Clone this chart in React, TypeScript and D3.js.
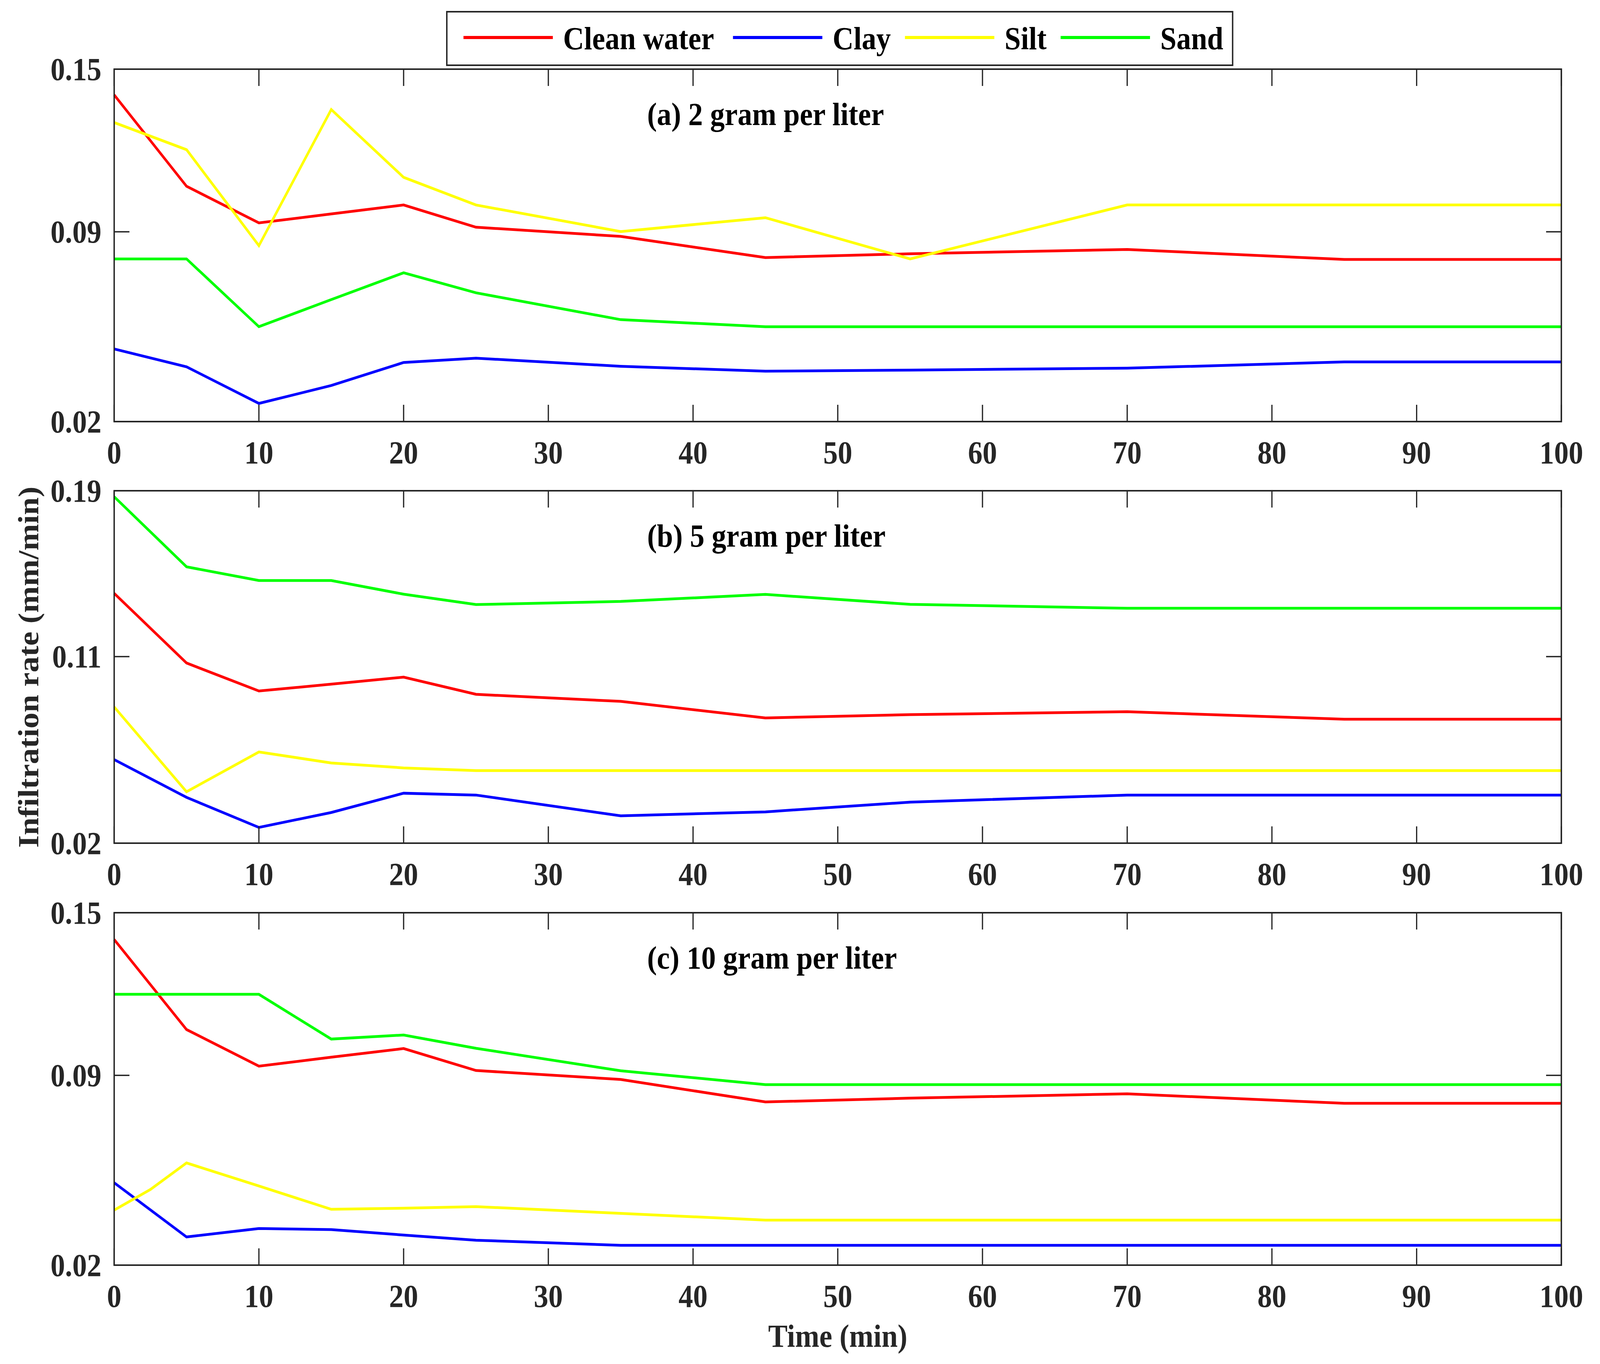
import * as d3 from "d3";
import { useEffect, useRef } from "react";

const TIMES = [0, 5, 10, 15, 20, 25, 35, 45, 55, 70, 85, 100];
const TIMES_SILT_C = [0, 2.5, 5, 10, 15, 20, 25, 35, 45, 55, 70, 85, 100];
const X_TICKS = [0, 10, 20, 30, 40, 50, 60, 70, 80, 90, 100];

const SERIES = ["Clean water", "Clay", "Silt", "Sand"];
const COLORS = ["#ff0000", "#0000ff", "#ffff00", "#00ff00"];

const TITLES = ["(a) 2 gram per liter", "(b) 5 gram per liter", "(c) 10 gram per liter"];
const Y_TICKS_A = [0.02, 0.09, 0.15];
const Y_TICKS_B = [0.02, 0.11, 0.19];
const Y_TICKS_C = [0.02, 0.09, 0.15];

// (a) 2 g/L
const A_CLEAN = [0.1405, 0.1068, 0.0933, 0.0966, 0.0999, 0.0917, 0.0883, 0.0805, 0.0819, 0.0835, 0.0798, 0.0798];
const A_CLAY = [0.0468, 0.0402, 0.0267, 0.0333, 0.0418, 0.0434, 0.0404, 0.0386, 0.039, 0.0397, 0.042, 0.042];
const A_SILT = [0.1303, 0.1203, 0.0849, 0.1351, 0.1101, 0.0999, 0.0901, 0.0952, 0.08, 0.0999, 0.0999, 0.0999];
const A_SAND = [0.08, 0.08, 0.055, 0.065, 0.0749, 0.0675, 0.0576, 0.055, 0.055, 0.055, 0.055, 0.055];

// (b) 5 g/L
const B_CLEAN = [0.1405, 0.1069, 0.0934, 0.0967, 0.1001, 0.0918, 0.0884, 0.0804, 0.082, 0.0834, 0.0798, 0.0798];
const B_CLAY = [0.0603, 0.0421, 0.0276, 0.0348, 0.0441, 0.0432, 0.0332, 0.0351, 0.0398, 0.0432, 0.0432, 0.0432];
const B_SILT = [0.0857, 0.0448, 0.064, 0.0587, 0.0563, 0.055, 0.055, 0.055, 0.055, 0.055, 0.055, 0.055];
const B_SAND = [0.1871, 0.1533, 0.1467, 0.1467, 0.1401, 0.1351, 0.1366, 0.14, 0.1352, 0.1333, 0.1333, 0.1333];

// (c) 10 g/L
const C_CLEAN = [0.1401, 0.1069, 0.0934, 0.0967, 0.0999, 0.0918, 0.0885, 0.0802, 0.0816, 0.0832, 0.0797, 0.0797];
const C_CLAY = [0.0504, 0.0304, 0.0335, 0.0331, 0.0311, 0.0292, 0.0273, 0.0273, 0.0273, 0.0273, 0.0273, 0.0273];
const C_SILT = [0.0403, 0.0479, 0.0577, 0.0492, 0.0406, 0.041, 0.0416, 0.0391, 0.0366, 0.0366, 0.0366, 0.0366, 0.0366];
const C_SAND = [0.1199, 0.1199, 0.1199, 0.1034, 0.1049, 0.1, 0.0917, 0.0866, 0.0866, 0.0866, 0.0866, 0.0866];

const LEGEND_X = [1307, 2067, 2552, 2991];

export default function App() {
  const ref = useRef<SVGSVGElement | null>(null);

  useEffect(() => {
    document.body.style.margin = "0";
    document.body.style.overflow = "hidden";

    const width = 4512;
    const height = 3491;
    const left = 322;
    const right = 4403;
    const panelH = 902;
    const tops = [177, 1256, 2336];
    const font = "'Liberation Serif', 'Times New Roman', serif";
    const axisColor = "#262626";

    const svg = d3.select(ref.current);
    svg.selectAll("*").remove();
    svg.attr("viewBox", `0 0 ${width} ${height}`).attr("preserveAspectRatio", "none");
    svg.append("rect").attr("width", width).attr("height", height).attr("fill", "#fff");

    const panels = [
      { title: TITLES[0], ticks: Y_TICKS_A, series: [A_CLEAN, A_CLAY, A_SILT, A_SAND], times: [TIMES, TIMES, TIMES, TIMES] },
      { title: TITLES[1], ticks: Y_TICKS_B, series: [B_CLEAN, B_CLAY, B_SILT, B_SAND], times: [TIMES, TIMES, TIMES, TIMES] },
      { title: TITLES[2], ticks: Y_TICKS_C, series: [C_CLEAN, C_CLAY, C_SILT, C_SAND], times: [TIMES, TIMES, TIMES_SILT_C, TIMES] },
    ];

    const x = d3.scaleLinear().domain([0, 100]).range([left, right]);

    panels.forEach((p, pi) => {
      const top = tops[pi];
      const bottom = top + panelH;
      const y = d3.scaleLinear().domain([p.ticks[0], p.ticks[p.ticks.length - 1]]).range([bottom, top]);
      const g = svg.append("g");

      const line = d3
        .line<[number, number]>()
        .x((d) => x(d[0]))
        .y((d) => y(d[1]));

      p.series.forEach((vals, si) => {
        const pts = vals.map((v, i) => [p.times[si][i], v] as [number, number]);
        g.append("path")
          .attr("d", line(pts) ?? "")
          .attr("fill", "none")
          .attr("stroke", COLORS[si])
          .attr("stroke-width", 7);
      });

      // ticks point inward on all four sides
      X_TICKS.forEach((t) => {
        g.append("line").attr("x1", x(t)).attr("x2", x(t)).attr("y1", bottom).attr("y2", bottom - 43)
          .attr("stroke", axisColor).attr("stroke-width", 3.5);
        g.append("line").attr("x1", x(t)).attr("x2", x(t)).attr("y1", top).attr("y2", top + 43)
          .attr("stroke", axisColor).attr("stroke-width", 3.5);
        g.append("text")
          .attr("x", x(t))
          .attr("y", bottom + 107)
          .attr("text-anchor", "middle")
          .attr("font-family", font)
          .attr("font-weight", "bold")
          .attr("font-size", 82)
          .attr("fill", axisColor)
          .text(String(t));
      });

      p.ticks.forEach((t) => {
        g.append("line").attr("x1", left).attr("x2", left + 43).attr("y1", y(t)).attr("y2", y(t))
          .attr("stroke", axisColor).attr("stroke-width", 3.5);
        g.append("line").attr("x1", right).attr("x2", right - 43).attr("y1", y(t)).attr("y2", y(t))
          .attr("stroke", axisColor).attr("stroke-width", 3.5);
        g.append("text")
          .attr("x", left - 36)
          .attr("y", y(t))
          .attr("dy", "0.34em")
          .attr("text-anchor", "end")
          .attr("font-family", font)
          .attr("font-weight", "bold")
          .attr("font-size", 82)
          .attr("fill", axisColor)
          .text(d3.format(".2f")(t));
      });

      g.append("rect")
        .attr("x", left)
        .attr("y", top)
        .attr("width", right - left)
        .attr("height", panelH)
        .attr("fill", "none")
        .attr("stroke", axisColor)
        .attr("stroke-width", 4);

      g.append("text")
        .attr("x", 1825)
        .attr("y", top + 143)
        .attr("font-family", font)
        .attr("font-weight", "bold")
        .attr("font-size", 82)
        .attr("fill", "#000")
        .text(p.title);
    });

    // axis labels
    svg.append("text")
      .attr("transform", `translate(108,${(tops[0] + tops[2] + panelH) / 2}) rotate(-90)`)
      .attr("text-anchor", "middle")
      .attr("font-family", font)
      .attr("font-weight", "bold")
      .attr("font-size", 82)
      .attr("fill", axisColor)
      .text("Infiltration rate (mm/min)");

    svg.append("text")
      .attr("x", (left + right) / 2)
      .attr("y", 3447)
      .attr("text-anchor", "middle")
      .attr("font-family", font)
      .attr("font-weight", "bold")
      .attr("font-size", 82)
      .attr("fill", axisColor)
      .text("Time (min)");

    // legend
    const leg = svg.append("g");
    leg.append("rect")
      .attr("x", 1260)
      .attr("y", 30)
      .attr("width", 3476 - 1260)
      .attr("height", 137)
      .attr("fill", "#fff")
      .attr("stroke", axisColor)
      .attr("stroke-width", 4);
    SERIES.forEach((name, i) => {
      leg.append("line")
        .attr("x1", LEGEND_X[i])
        .attr("x2", LEGEND_X[i] + 252)
        .attr("y1", 96)
        .attr("y2", 96)
        .attr("stroke", COLORS[i])
        .attr("stroke-width", 8);
      leg.append("text")
        .attr("x", LEGEND_X[i] + 281)
        .attr("y", 126)
        .attr("font-family", font)
        .attr("font-weight", "bold")
        .attr("font-size", 82)
        .attr("fill", "#000")
        .text(name);
    });
  }, []);

  return (
    <svg
      ref={ref}
      style={{ position: "absolute", left: 0, top: 0, width: "100vw", height: "100vh", display: "block" }}
    />
  );
}
